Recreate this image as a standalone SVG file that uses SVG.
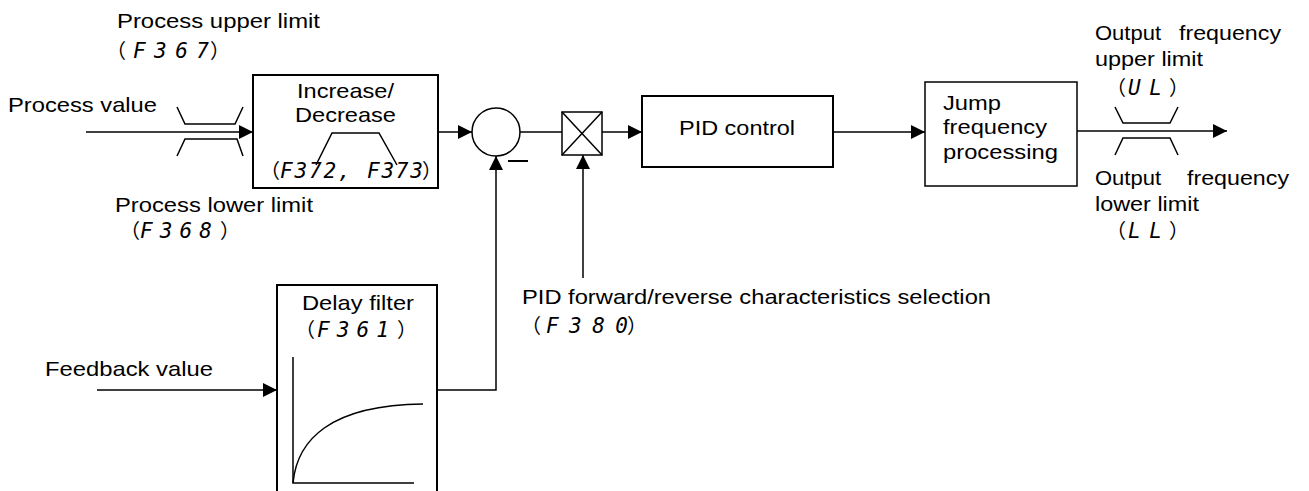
<svg xmlns="http://www.w3.org/2000/svg" width="1309" height="491" viewBox="0 0 1309 491">
<style>
.t{font-family:"Liberation Sans",Arial,sans-serif;font-size:21px;fill:#000}
.seg{font-family:"DejaVu Sans Mono",monospace;font-style:oblique;font-size:21px;fill:#000}
.par{font-family:"Noto Sans CJK JP","Liberation Sans",sans-serif;font-size:20px;fill:#000}
.box{fill:#fff;stroke:#000;stroke-width:2}
.ln{fill:none;stroke:#000;stroke-width:1.5}
.ar{fill:none;stroke:#000;stroke-width:1.5;marker-end:url(#ah)}
</style>
<defs>
<marker id="ah" markerUnits="userSpaceOnUse" markerWidth="15" markerHeight="14" refX="14" refY="7" orient="auto">
<path d="M0,0 L14,7 L0,14 z" fill="#000"/>
</marker>
</defs>
<rect width="1309" height="491" fill="#fff"/>

<g id="connectors">
<line class="ar" x1="86" y1="132" x2="253" y2="132"/>
<line class="ar" x1="438" y1="132" x2="472" y2="132"/>
<line class="ln" x1="520" y1="132" x2="562" y2="132"/>
<line class="ar" x1="602" y1="132" x2="642" y2="132"/>
<line class="ar" x1="833" y1="132" x2="925" y2="132"/>
<line class="ar" x1="1077" y1="131" x2="1227" y2="131"/>
<line class="ar" x1="97" y1="390" x2="277" y2="390"/>
<polyline class="ar" points="437,390 496,390 496,156"/>
<line class="ar" x1="583" y1="278" x2="583" y2="155"/>
</g>

<g id="process-limit">
<polyline class="ln" points="177,107 185,124 235,124 243,107"/>
<polyline class="ln" points="177,156 185,139 237,139 243,156"/>
<text class="t" x="117" y="28" textLength="203" lengthAdjust="spacingAndGlyphs">Process upper limit</text>
<text y="58"><tspan class="par" x="106">（</tspan><tspan class="seg" x="133" textLength="76" lengthAdjust="spacing">F367</tspan><tspan class="par" x="210">）</tspan></text>
<text class="t" x="8" y="112" textLength="149" lengthAdjust="spacingAndGlyphs">Process value</text>
<text class="t" x="115" y="212" textLength="198" lengthAdjust="spacingAndGlyphs">Process lower limit</text>
<text y="238"><tspan class="par" x="120">（</tspan><tspan class="seg" x="140" textLength="72" lengthAdjust="spacing">F368</tspan><tspan class="par" x="220">）</tspan></text>
</g>

<g id="increase-decrease">
<rect class="box" x="253" y="75" width="185" height="113"/>
<text class="t" x="297" y="98" textLength="97" lengthAdjust="spacingAndGlyphs">Increase/</text>
<text class="t" x="295" y="122" textLength="101" lengthAdjust="spacingAndGlyphs">Decrease</text>
<polyline class="ln" points="316,165 332,133 379,133 397,165"/>
<text y="178"><tspan class="par" x="260">（</tspan><tspan class="seg" x="280" textLength="143" lengthAdjust="spacing">F372, F373</tspan><tspan class="par" x="422">）</tspan></text>
</g>

<g id="summing-point">
<circle cx="496" cy="132" r="24" fill="#fff" stroke="#000" stroke-width="1.5"/>
<line x1="508" y1="161" x2="528" y2="161" stroke="#000" stroke-width="2"/>
</g>

<g id="switch">
<rect x="562" y="112" width="40" height="43" fill="#fff" stroke="#000" stroke-width="1.5"/>
<line class="ln" x1="562" y1="112" x2="602" y2="155"/>
<line class="ln" x1="602" y1="112" x2="562" y2="155"/>
</g>

<g id="pid-control">
<rect class="box" x="642" y="96" width="191" height="71"/>
<text class="t" x="679" y="135" textLength="116" lengthAdjust="spacingAndGlyphs">PID control</text>
</g>

<g id="jump-frequency">
<rect x="925" y="82" width="152" height="104" fill="#fff" stroke="#000" stroke-width="1.5"/>
<text class="t" x="943" y="110" textLength="58" lengthAdjust="spacingAndGlyphs">Jump</text>
<text class="t" x="943" y="134" textLength="104" lengthAdjust="spacingAndGlyphs">frequency</text>
<text class="t" x="943" y="159" textLength="115" lengthAdjust="spacingAndGlyphs">processing</text>
</g>

<g id="output-limit">
<polyline class="ln" points="1115,107 1123,123 1170,123 1178,107"/>
<polyline class="ln" points="1115,155 1123,138 1170,138 1178,155"/>
<text class="t" x="1095" y="40" textLength="66" lengthAdjust="spacingAndGlyphs">Output</text>
<text class="t" x="1281" y="40" text-anchor="end" textLength="102" lengthAdjust="spacingAndGlyphs">frequency</text>
<text class="t" x="1095" y="66" textLength="108" lengthAdjust="spacingAndGlyphs">upper limit</text>
<text y="95"><tspan class="par" x="1106">（</tspan><tspan class="seg" x="1128" textLength="34" lengthAdjust="spacing">UL</tspan><tspan class="par" x="1169">）</tspan></text>
<text class="t" x="1095" y="185" textLength="66" lengthAdjust="spacingAndGlyphs">Output</text>
<text class="t" x="1289" y="185" text-anchor="end" textLength="102" lengthAdjust="spacingAndGlyphs">frequency</text>
<text class="t" x="1095" y="211" textLength="104" lengthAdjust="spacingAndGlyphs">lower limit</text>
<text y="238"><tspan class="par" x="1106">（</tspan><tspan class="seg" x="1128" textLength="34" lengthAdjust="spacing">LL</tspan><tspan class="par" x="1169">）</tspan></text>
</g>

<g id="delay-filter">
<rect class="box" x="277" y="285" width="160" height="220"/>
<text class="t" x="302" y="310" textLength="112" lengthAdjust="spacingAndGlyphs">Delay filter</text>
<text y="337"><tspan class="par" x="295">（</tspan><tspan class="seg" x="317" textLength="72" lengthAdjust="spacing">F361</tspan><tspan class="par" x="397">）</tspan></text>
<polyline class="ln" points="293,357 293,483 414,483"/>
<path class="ln" d="M293,483 C297,440 330,405 423,404"/>
</g>

<g id="feedback">
<text class="t" x="45" y="376" textLength="168" lengthAdjust="spacingAndGlyphs">Feedback value</text>
</g>

<g id="pid-direction">
<text class="t" x="522" y="304" textLength="469" lengthAdjust="spacingAndGlyphs">PID forward/reverse characteristics selection</text>
<text y="333"><tspan class="par" x="521">（</tspan><tspan class="seg" x="546" textLength="82" lengthAdjust="spacing">F380</tspan><tspan class="par" x="627">）</tspan></text>
</g>
</svg>
